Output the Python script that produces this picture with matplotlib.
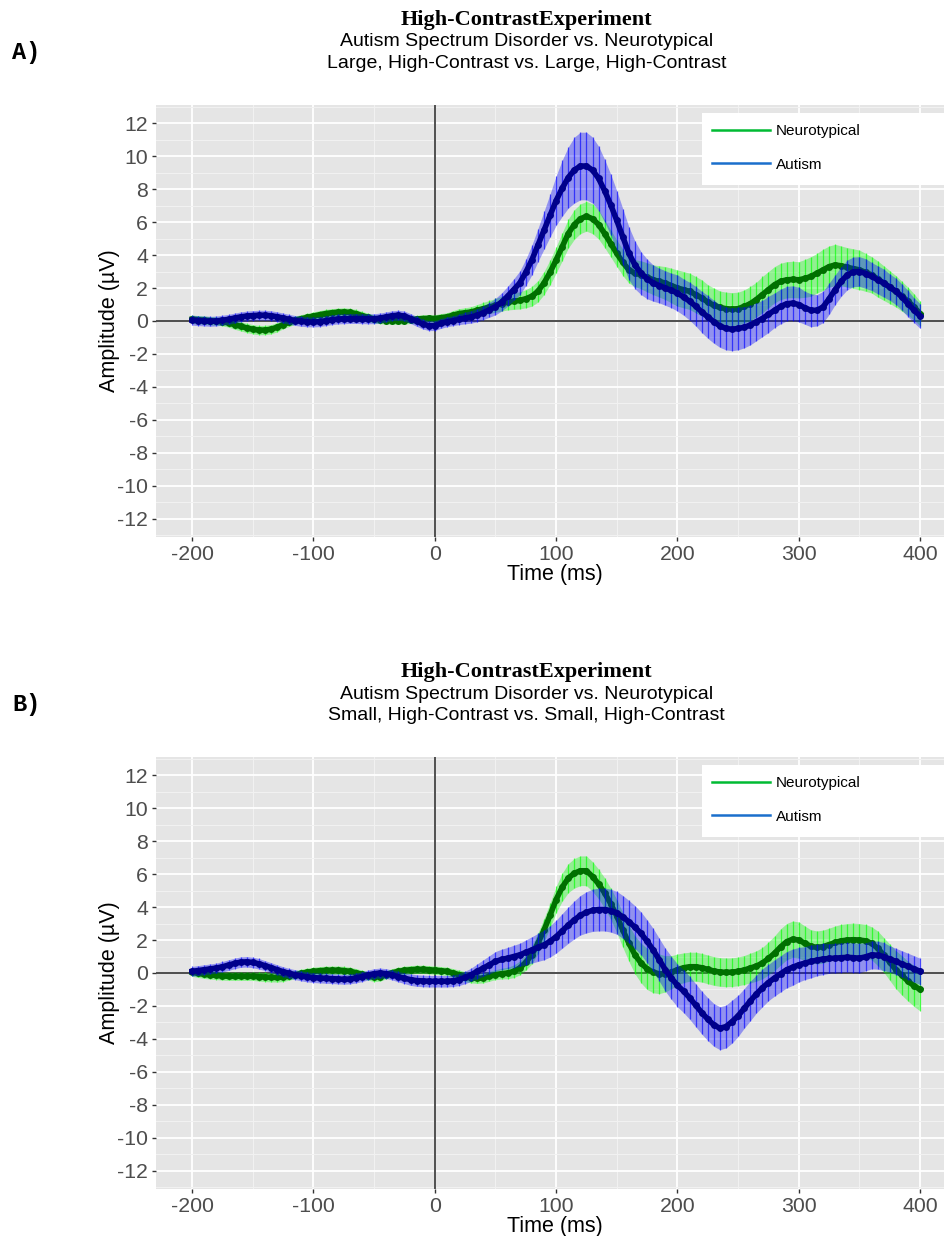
import matplotlib
matplotlib.use("Agg")
import matplotlib.pyplot as plt
from matplotlib.lines import Line2D
from matplotlib.patches import Rectangle
import numpy as np

# tiempo de muestreo (ms)
tiempo = np.arange(-200, 405, 5)

# Panel A: Large, High-Contrast
verde_a = [0.10, 0.08, 0.05, 0.02, 0.00, -0.05, -0.12, -0.22, -0.32, -0.42,
           -0.50, -0.55, -0.55, -0.50, -0.38, -0.22, -0.08, 0.05, 0.14, 0.22,
           0.30, 0.38, 0.45, 0.50, 0.53, 0.55, 0.52, 0.45, 0.33, 0.22,
           0.12, 0.06, 0.03, 0.02, 0.02, 0.03, 0.07, 0.12, 0.15, 0.16,
           0.15, 0.20, 0.25, 0.35, 0.45, 0.50, 0.55, 0.65, 0.75, 0.85,
           0.95, 1.05, 1.15, 1.20, 1.25, 1.35, 1.50, 1.80, 2.30, 2.95,
           3.70, 4.50, 5.30, 5.85, 6.20, 6.35, 6.20, 5.85, 5.30, 4.70,
           4.10, 3.55, 3.10, 2.90, 2.80, 2.65, 2.50, 2.40, 2.30, 2.15,
           2.00, 1.90, 1.80, 1.60, 1.40, 1.15, 0.95, 0.82, 0.75, 0.72,
           0.75, 0.88, 1.05, 1.30, 1.60, 1.90, 2.20, 2.40, 2.50, 2.52,
           2.50, 2.58, 2.70, 2.90, 3.10, 3.30, 3.40, 3.35, 3.25, 3.18,
           3.10, 2.95, 2.80, 2.55, 2.30, 2.05, 1.80, 1.50, 1.20, 0.85,
           0.45]
verde_a_se = [0.25, 0.25, 0.25, 0.25, 0.25, 0.25, 0.25, 0.28, 0.28, 0.28,
              0.28, 0.28, 0.28, 0.28, 0.28, 0.25, 0.25, 0.25, 0.25, 0.25,
              0.25, 0.25, 0.25, 0.25, 0.25, 0.25, 0.25, 0.25, 0.25, 0.25,
              0.25, 0.22, 0.22, 0.22, 0.22, 0.22, 0.22, 0.22, 0.22, 0.22,
              0.22, 0.25, 0.25, 0.28, 0.30, 0.30, 0.32, 0.35, 0.38, 0.40,
              0.42, 0.45, 0.48, 0.50, 0.52, 0.55, 0.60, 0.65, 0.70, 0.75,
              0.80, 0.85, 0.88, 0.90, 0.90, 0.90, 0.90, 0.88, 0.85, 0.82,
              0.80, 0.80, 0.80, 0.82, 0.85, 0.88, 0.90, 0.95, 1.00, 1.05,
              1.10, 1.10, 1.10, 1.10, 1.10, 1.05, 1.05, 1.00, 1.00, 1.00,
              1.00, 1.00, 1.05, 1.05, 1.10, 1.10, 1.10, 1.10, 1.10, 1.10,
              1.10, 1.15, 1.20, 1.20, 1.25, 1.25, 1.25, 1.20, 1.20, 1.20,
              1.20, 1.15, 1.10, 1.10, 1.05, 1.00, 0.95, 0.90, 0.85, 0.80,
              0.75]
azul_a = [0.05, 0.02, 0.00, -0.02, 0.00, 0.05, 0.10, 0.18, 0.25, 0.30,
          0.33, 0.35, 0.35, 0.32, 0.26, 0.18, 0.10, 0.03, -0.02, -0.05,
          -0.06, -0.04, 0.02, 0.08, 0.12, 0.14, 0.15, 0.15, 0.14, 0.13,
          0.14, 0.18, 0.25, 0.32, 0.35, 0.30, 0.15, -0.02, -0.18, -0.28,
          -0.28, -0.15, -0.05, 0.02, 0.10, 0.18, 0.25, 0.35, 0.50, 0.68,
          0.87, 1.15, 1.50, 1.90, 2.30, 2.95, 3.70, 4.60, 5.50, 6.40,
          7.30, 8.05, 8.70, 9.15, 9.40, 9.40, 9.15, 8.65, 7.90, 7.05,
          6.10, 5.10, 4.10, 3.40, 2.90, 2.55, 2.30, 2.15, 2.00, 1.85,
          1.70, 1.45, 1.20, 0.90, 0.55, 0.25, -0.05, -0.30, -0.45, -0.50,
          -0.45, -0.38, -0.25, -0.05, 0.15, 0.40, 0.65, 0.88, 1.05, 1.08,
          1.00, 0.80, 0.65, 0.65, 0.85, 1.35, 1.90, 2.40, 2.80, 2.98,
          3.00, 2.88, 2.70, 2.50, 2.30, 2.05, 1.80, 1.45, 1.05, 0.65,
          0.30]
azul_a_se = [0.30, 0.30, 0.30, 0.30, 0.30, 0.30, 0.30, 0.30, 0.30, 0.30,
             0.30, 0.30, 0.30, 0.30, 0.30, 0.30, 0.30, 0.30, 0.30, 0.30,
             0.30, 0.30, 0.30, 0.30, 0.30, 0.30, 0.30, 0.30, 0.30, 0.30,
             0.30, 0.30, 0.30, 0.30, 0.30, 0.30, 0.30, 0.30, 0.30, 0.30,
             0.30, 0.30, 0.30, 0.30, 0.32, 0.35, 0.38, 0.40, 0.42, 0.45,
             0.50, 0.55, 0.60, 0.65, 0.72, 0.80, 0.90, 1.00, 1.15, 1.30,
             1.50, 1.70, 1.85, 2.00, 2.05, 2.05, 2.00, 1.95, 1.90, 1.85,
             1.80, 1.70, 1.60, 1.45, 1.30, 1.20, 1.10, 1.05, 1.05, 1.05,
             1.10, 1.10, 1.15, 1.20, 1.25, 1.30, 1.30, 1.30, 1.30, 1.30,
             1.30, 1.25, 1.20, 1.15, 1.10, 1.10, 1.05, 1.05, 1.05, 1.05,
             1.05, 1.00, 1.00, 0.95, 0.95, 0.95, 0.90, 0.90, 0.90, 0.90,
             0.90, 0.90, 0.85, 0.85, 0.85, 0.80, 0.80, 0.80, 0.80, 0.75,
             0.75]

# Panel B: Small, High-Contrast
verde_b = [0.05, -0.02, -0.08, -0.12, -0.15, -0.18, -0.20, -0.20, -0.20, -0.20,
           -0.20, -0.22, -0.24, -0.26, -0.27, -0.25, -0.18, -0.10, -0.02, 0.05,
           0.10, 0.14, 0.16, 0.17, 0.17, 0.15, 0.10, 0.02, -0.08, -0.18,
           -0.25, -0.22, -0.10, 0.02, 0.10, 0.16, 0.20, 0.22, 0.22, 0.20,
           0.17, 0.14, 0.10, 0.00, -0.10, -0.22, -0.30, -0.33, -0.30, -0.20,
           -0.10, -0.04, 0.00, 0.10, 0.30, 0.65, 1.10, 1.80, 2.60, 3.50,
           4.45, 5.20, 5.75, 6.05, 6.20, 6.20, 5.85, 5.40, 4.85, 4.20,
           3.45, 2.60, 1.80, 1.10, 0.60, 0.25, 0.05, -0.05, -0.05, 0.05,
           0.20, 0.32, 0.38, 0.38, 0.32, 0.22, 0.12, 0.06, 0.04, 0.05,
           0.10, 0.18, 0.30, 0.42, 0.60, 0.88, 1.20, 1.58, 1.90, 2.05,
           2.00, 1.80, 1.62, 1.55, 1.60, 1.72, 1.85, 1.95, 2.00, 2.02,
           2.00, 1.95, 1.80, 1.50, 1.10, 0.65, 0.20, -0.15, -0.50, -0.78,
           -1.00]
verde_b_se = [0.25, 0.25, 0.25, 0.25, 0.25, 0.25, 0.25, 0.25, 0.25, 0.25,
              0.25, 0.27, 0.28, 0.28, 0.28, 0.27, 0.25, 0.25, 0.25, 0.25,
              0.25, 0.25, 0.25, 0.25, 0.25, 0.25, 0.25, 0.25, 0.25, 0.25,
              0.27, 0.27, 0.25, 0.25, 0.25, 0.25, 0.25, 0.25, 0.25, 0.25,
              0.25, 0.25, 0.25, 0.27, 0.28, 0.30, 0.30, 0.30, 0.30, 0.30,
              0.30, 0.32, 0.35, 0.38, 0.42, 0.48, 0.55, 0.62, 0.70, 0.75,
              0.80, 0.85, 0.88, 0.90, 0.90, 0.90, 0.90, 0.90, 0.92, 0.95,
              1.00, 1.05, 1.10, 1.15, 1.20, 1.25, 1.25, 1.20, 1.10, 1.00,
              0.95, 0.90, 0.88, 0.88, 0.87, 0.87, 0.87, 0.87, 0.87, 0.87,
              0.87, 0.88, 0.90, 0.92, 0.95, 1.00, 1.05, 1.10, 1.10, 1.10,
              1.10, 1.05, 1.00, 1.00, 1.00, 1.00, 1.00, 1.00, 1.00, 1.00,
              1.00, 1.00, 1.00, 1.05, 1.05, 1.10, 1.15, 1.20, 1.20, 1.25,
              1.30]
azul_b = [0.10, 0.15, 0.20, 0.25, 0.30, 0.38, 0.48, 0.58, 0.66, 0.68,
          0.64, 0.56, 0.45, 0.33, 0.20, 0.08, -0.02, -0.10, -0.18, -0.24,
          -0.28, -0.30, -0.32, -0.34, -0.36, -0.38, -0.36, -0.30, -0.22, -0.12,
          -0.04, 0.00, -0.04, -0.12, -0.22, -0.32, -0.40, -0.46, -0.48, -0.50,
          -0.50, -0.50, -0.50, -0.47, -0.40, -0.27, -0.10, 0.10, 0.30, 0.50,
          0.70, 0.82, 0.90, 1.00, 1.10, 1.25, 1.40, 1.55, 1.70, 1.92,
          2.20, 2.55, 2.90, 3.22, 3.50, 3.68, 3.80, 3.85, 3.85, 3.78,
          3.65, 3.40, 3.10, 2.78, 2.40, 1.92, 1.40, 0.80, 0.20, -0.30,
          -0.75, -1.10, -1.50, -1.95, -2.40, -2.80, -3.15, -3.35, -3.25, -2.95,
          -2.60, -2.15, -1.70, -1.28, -0.90, -0.58, -0.30, -0.05, 0.20, 0.35,
          0.50, 0.60, 0.70, 0.78, 0.85, 0.88, 0.90, 0.93, 0.95, 0.93,
          0.90, 0.98, 1.10, 1.08, 1.00, 0.85, 0.70, 0.55, 0.40, 0.25,
          0.10]
azul_b_se = [0.30, 0.30, 0.30, 0.30, 0.30, 0.32, 0.32, 0.32, 0.32, 0.32,
             0.32, 0.32, 0.30, 0.30, 0.30, 0.30, 0.30, 0.30, 0.30, 0.30,
             0.30, 0.30, 0.30, 0.30, 0.30, 0.30, 0.30, 0.30, 0.30, 0.30,
             0.30, 0.30, 0.30, 0.30, 0.32, 0.32, 0.35, 0.35, 0.35, 0.35,
             0.35, 0.35, 0.35, 0.35, 0.36, 0.38, 0.40, 0.45, 0.50, 0.55,
             0.60, 0.62, 0.65, 0.68, 0.70, 0.75, 0.80, 0.85, 0.90, 0.95,
             1.00, 1.05, 1.10, 1.15, 1.20, 1.25, 1.28, 1.30, 1.30, 1.30,
             1.30, 1.30, 1.30, 1.30, 1.30, 1.30, 1.30, 1.30, 1.30, 1.30,
             1.30, 1.30, 1.30, 1.30, 1.30, 1.30, 1.30, 1.30, 1.30, 1.30,
             1.25, 1.20, 1.20, 1.15, 1.15, 1.10, 1.10, 1.10, 1.10, 1.10,
             1.05, 1.00, 1.00, 0.95, 0.95, 0.90, 0.90, 0.90, 0.90, 0.90,
             0.90, 0.85, 0.85, 0.85, 0.85, 0.80, 0.80, 0.80, 0.80, 0.80,
             0.80]

ticks_x = [-200, -100, 0, 100, 200, 300, 400]
ticks_y = [-12, -10, -8, -6, -4, -2, 0, 2, 4, 6, 8, 10, 12]
grupos = ["Neurotypical", "Autism"]

plt.rcParams["font.family"] = ["Liberation Sans", "DejaVu Sans"]
plt.rcParams["axes.unicode_minus"] = False

ANCHO, ALTO = 944, 1236


def dibujar_grupo(ax, media, se, color_barra, color_media, z):
    media = np.array(media)
    se = np.array(se)
    ax.fill_between(tiempo, media - se, media + se, color=color_barra,
                    alpha=0.36, lw=0, zorder=z)
    ax.vlines(tiempo, media - se, media + se, colors=color_barra,
              alpha=0.65, lw=0.9, zorder=z + 0.1)
    ax.plot(tiempo, media, color=color_media, lw=4, marker="o", ms=5,
            mec="none", zorder=z + 0.2)


def graficar_panel(fig, off, letra, subtitulo, vm, vse, am, ase):
    # off: desplazamiento vertical del panel en pixeles
    ax = fig.add_axes([155.7 / ANCHO, 1 - (537 + off) / ALTO,
                       800.8 / ANCHO, 432 / ALTO])
    ax.set_facecolor("#E5E5E5")
    ax.set_xlim(-230, 430)
    ax.set_ylim(-13.1, 13.1)
    ax.set_xticks(ticks_x)
    ax.set_xticks([-150, -50, 50, 150, 250, 350], minor=True)
    ax.set_yticks(ticks_y)
    ax.set_yticks(np.arange(-13, 14, 2), minor=True)
    ax.grid(which="major", color="white", lw=1.3)
    ax.grid(which="minor", color="#F2F2F2", lw=0.7)
    ax.set_axisbelow(True)
    for s in ax.spines.values():
        s.set_visible(False)
    ax.tick_params(which="major", length=3, width=1, color="#333333",
                   labelsize=15.3, labelcolor="#4D4D4D", pad=2.5)
    ax.tick_params(which="minor", length=0)

    ax.axhline(0, color="#4D4D4D", lw=1.4, zorder=1.5)
    ax.axvline(0, color="#333333", lw=1.2, zorder=1.5)

    dibujar_grupo(ax, vm, vse, "#00FF00", "#007000", 2)
    dibujar_grupo(ax, am, ase, "#0000FF", "#00008B", 3)

    ax.set_xlabel("Time (ms)", fontsize=15.5)
    ax.set_ylabel("Amplitude (µV)", fontsize=15.5)
    ax.xaxis.set_label_coords(0.499, -0.086)
    ax.xaxis.label.set_va("center")
    ax.yaxis.set_label_coords(-0.058, 0.5)
    ax.yaxis.label.set_va("center")

    # leyenda sobre caja blanca
    ax.add_patch(Rectangle((0.682, 0.815), 0.4, 0.166, transform=ax.transAxes,
                           facecolor="white", edgecolor="none", zorder=5,
                           clip_on=False))
    manijas = [Line2D([], [], color="#00BB33", lw=1.8),
               Line2D([], [], color="#1A6FCC", lw=1.8)]
    leg = ax.legend(manijas, grupos, loc="upper left",
                    bbox_to_anchor=(0.695, 0.955), frameon=False,
                    borderpad=0, borderaxespad=0, handlelength=3.8,
                    handletextpad=0.35, labelspacing=1.25, fontsize=11)
    leg.set_zorder(6)

    fig.text(26 / ANCHO, 1 - (52 + off) / ALTO, letra, family="Liberation Mono",
             fontsize=17, weight="bold", ha="center", va="center")
    fig.text(0.558, 1 - (20 + off) / ALTO, "High-ContrastExperiment",
             family="Liberation Serif", fontsize=16, weight="bold",
             ha="center", va="center")
    fig.text(0.558, 1 - (42 + off) / ALTO, "Autism Spectrum Disorder vs. Neurotypical",
             fontsize=14, ha="center", va="center")
    fig.text(0.558, 1 - (64 + off) / ALTO, subtitulo,
             fontsize=14, ha="center", va="center")
    return ax


fig = plt.figure(figsize=(ANCHO / 100, ALTO / 100), dpi=100)
graficar_panel(fig, 0, "A)", "Large, High-Contrast vs. Large, High-Contrast",
               verde_a, verde_a_se, azul_a, azul_a_se)
graficar_panel(fig, 652, "B)", "Small, High-Contrast vs. Small, High-Contrast",
               verde_b, verde_b_se, azul_b, azul_b_se)
fig.savefig("out.png", dpi=100)
